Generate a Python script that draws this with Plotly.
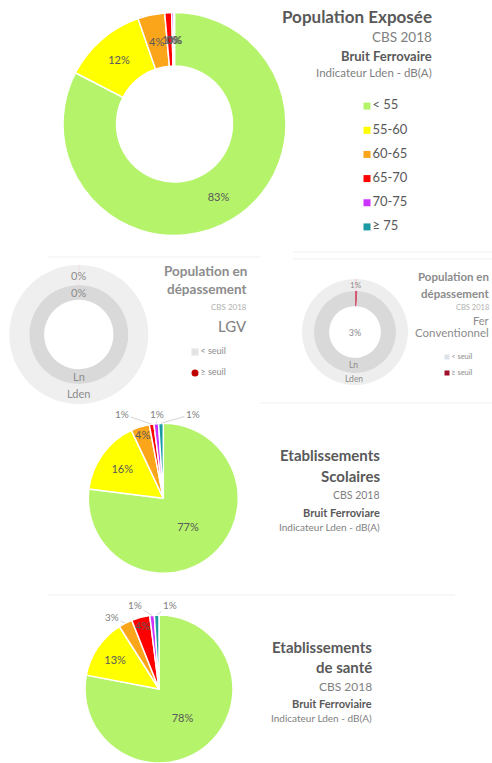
import math
import plotly.graph_objects as go

W, H = 492, 763
FONT = "Lato"

# ---------------- data ----------------
classes = ["< 55", "55-60", "60-65", "65-70", "70-75", "≥ 75"]
class_colors = ["#b5f36b", "#ffff00", "#fba51a", "#ff0000", "#cc33ff", "#1a9aa3"]

pop_exposee = [82.6, 12.1, 3.9, 1.0, 0.3, 0.1]        # % population
etab_scolaires = [77, 16, 4, 1, 1, 1]                # % schools
etab_sante = [78, 13, 3, 4, 1, 1]                    # % health facilities

seuil_labels = ["≥ seuil", "< seuil"]
ring_names = ["Lden", "Ln"]
lgv_lden = [0.1, 99.9]
lgv_ln = [0.1, 99.9]
conv_lden = [0.6, 99.4]
conv_ln = [1.0, 99.0]
conv_center_label = "3%"
legend_seuil = ["< seuil", "≥ seuil"]
legend_seuil_colors_lgv = ["#e3e3e3", "#c00000"]
legend_seuil_colors_conv = ["#dde3ea", "#a0102a"]

# ---------------- geometry (layout only) ----------------
G1 = dict(cx=174.5, cy=124, r=111.5, hole=0.52)
G2o = dict(cx=78.8, cy=334.5, r=69.5, hole=0.712)
G2i = dict(cx=78.8, cy=334.5, r=49.5, hole=0.70)
G3o = dict(cx=355, cy=332, r=53, hole=0.77)
G3i = dict(cx=355, cy=332, r=41, hole=0.63)
G4 = dict(cx=163.3, cy=498.3, r=75, hole=0)
G5 = dict(cx=159, cy=689, r=74, hole=0)


def dom(g):
    cx, cy, r = g["cx"], g["cy"], g["r"]
    return dict(x=[(cx - r) / W, (cx + r) / W], y=[1 - (cy + r) / H, 1 - (cy - r) / H])


def txt(s, x, y, size, color, bold=False, anchor="right"):
    return dict(text=f"<b>{s}</b>" if bold else s, x=x / W, y=1 - y / H,
                xref="paper", yref="paper", xanchor=anchor, yanchor="middle",
                showarrow=False, font=dict(family=FONT, size=size, color=color))


def slice_point(values, idx, g, rfrac):
    total = float(sum(values))
    mid = (sum(values[:idx]) + values[idx] / 2.0) / total * 2 * math.pi
    rr = g["r"] * rfrac
    return g["cx"] + rr * math.sin(mid), g["cy"] - rr * math.cos(mid)


def pct(values, idx):
    return f"{round(values[idx] / sum(values) * 100)}%"


def ring_label(values, idx, g, text, size, color):
    x, y = slice_point(values, idx, g, (1 + g["hole"]) / 2)
    return txt(text, x, y, size, color, anchor="center")


def leader(values, idx, g, lx, ly, size=10, color="#7f7f7f"):
    hx, hy = slice_point(values, idx, g, 1.0)
    return dict(text=pct(values, idx), x=hx / W, y=1 - hy / H, xref="paper", yref="paper",
                ax=lx - hx, ay=ly - hy, showarrow=True, arrowhead=0, arrowwidth=0.8,
                arrowcolor="#c8c8c8", standoff=0, startstandoff=0,
                font=dict(family=FONT, size=size, color=color))


fig = go.Figure()

LBL = dict(family=FONT, size=11, color="#595959")
P = "%{percent:.0%}"

# Panel 1 : donut population exposée
fig.add_trace(go.Pie(
    labels=classes, values=pop_exposee, sort=False, direction="clockwise", rotation=0,
    hole=G1["hole"], domain=dom(G1),
    marker=dict(colors=class_colors, line=dict(color="white", width=1.5)),
    texttemplate=[P, P, "", "", "", ""], textposition="inside", insidetextorientation="horizontal",
    textfont=LBL, showlegend=False))

# Panel 2 left : LGV rings
for vals, g, col in [(lgv_lden, G2o, ["#c00000", "#efefef"]), (lgv_ln, G2i, ["#c00000", "#d9d9d9"])]:
    fig.add_trace(go.Pie(
        labels=seuil_labels, values=vals, sort=False, direction="clockwise", rotation=0,
        hole=g["hole"], domain=dom(g), textinfo="none",
        marker=dict(colors=col, line=dict(width=0)), showlegend=False))

# Panel 2 right : Fer conventionnel rings
fig.add_trace(go.Pie(
    labels=seuil_labels, values=conv_lden, sort=False, direction="clockwise", rotation=0,
    hole=G3o["hole"], domain=dom(G3o), textinfo="none",
    marker=dict(colors=["#f3d6dc", "#eeeeee"], line=dict(width=0)), showlegend=False))
fig.add_trace(go.Pie(
    labels=seuil_labels, values=conv_ln, sort=False, direction="clockwise", rotation=0,
    hole=G3i["hole"], domain=dom(G3i), textinfo="none",
    marker=dict(colors=["#d25a74", "#d9d9d9"], line=dict(width=0)),
    title=dict(text=conv_center_label, position="middle center",
               font=dict(family=FONT, size=9, color="#8c8c8c")),
    showlegend=False))

# Panel 3 : établissements scolaires
fig.add_trace(go.Pie(
    labels=classes, values=etab_scolaires, sort=False, direction="clockwise", rotation=0,
    domain=dom(G4),
    marker=dict(colors=class_colors, line=dict(color="white", width=1.5)),
    texttemplate=[P, P, P, "", "", ""], textposition="inside",
    insidetextorientation="horizontal", textfont=LBL, showlegend=False))

# Panel 4 : établissements de santé
fig.add_trace(go.Pie(
    labels=classes, values=etab_sante, sort=False, direction="clockwise", rotation=0,
    domain=dom(G5),
    marker=dict(colors=class_colors, line=dict(color="white", width=1.5)),
    texttemplate=[P, P, "", P, "", ""], textposition="inside",
    insidetextorientation="horizontal", textfont=LBL, showlegend=False))

# Legends drawn as marker+text scatters on hidden axes
fig.add_trace(go.Scatter(
    x=[0] * len(classes), y=list(range(len(classes))), mode="markers+text",
    text=classes, textposition="middle right",
    marker=dict(symbol="square", size=7, color=class_colors),
    textfont=dict(family=FONT, size=13, color="#595959"),
    cliponaxis=False, hoverinfo="skip", showlegend=False, xaxis="x", yaxis="y"))
fig.add_trace(go.Scatter(
    x=[0] * len(legend_seuil), y=list(range(len(legend_seuil))), mode="markers+text",
    text=legend_seuil, textposition="middle right",
    marker=dict(symbol=["square", "circle"], size=7, color=legend_seuil_colors_lgv),
    textfont=dict(family=FONT, size=9, color="#8c8c8c"),
    cliponaxis=False, hoverinfo="skip", showlegend=False, xaxis="x2", yaxis="y2"))
fig.add_trace(go.Scatter(
    x=[0] * len(legend_seuil), y=list(range(len(legend_seuil))), mode="markers+text",
    text=legend_seuil, textposition="middle right",
    marker=dict(symbol="square", size=5, color=legend_seuil_colors_conv),
    textfont=dict(family=FONT, size=7.5, color="#8c8c8c"),
    cliponaxis=False, hoverinfo="skip", showlegend=False, xaxis="x3", yaxis="y3"))

hid = dict(visible=False, showgrid=False, zeroline=False, fixedrange=True)

annotations = [
    # panel 1
    txt("Population Exposée", 434, 16, 17, "#595959", bold=True),
    txt("CBS 2018", 434, 37, 13.5, "#7f7f7f"),
    txt("Bruit Ferrovaire", 434, 56, 13, "#595959", bold=True),
    txt("Indicateur Lden - dB(A)", 434, 73, 11.5, "#7f7f7f"),
    # panel 2 left
    txt("Population en", 249, 271, 13.5, "#8c8c8c", bold=True),
    txt("dépassement", 249, 289, 13.5, "#8c8c8c", bold=True),
    txt("CBS 2018", 249, 307, 8, "#b0b0b0"),
    txt("LGV", 249, 326, 15, "#808080"),
    # panel 2 right
    txt("Population en", 491, 277, 11.5, "#8c8c8c", bold=True),
    txt("dépassement", 491, 293, 11.5, "#8c8c8c", bold=True),
    txt("CBS 2018", 491, 307, 7.5, "#b0b0b0"),
    txt("Fer", 491, 320, 11, "#8c8c8c"),
    txt("Conventionnel", 491, 333, 11.5, "#8c8c8c"),
    # panel 3
    txt("Etablissements", 382, 455, 15, "#595959", bold=True),
    txt("Scolaires", 382, 476, 15, "#595959", bold=True),
    txt("CBS 2018", 382, 495, 10.5, "#7f7f7f"),
    txt("Bruit Ferroviare", 382, 512, 11, "#595959", bold=True),
    txt("Indicateur Lden - dB(A)", 382, 527, 10, "#7f7f7f"),
    # panel 4
    txt("Etablissements", 374, 647, 15, "#595959", bold=True),
    txt("de santé", 374, 667, 15, "#595959", bold=True),
    txt("CBS 2018", 374, 686, 12, "#7f7f7f"),
    txt("Bruit Ferroviaire", 374, 703, 11, "#595959", bold=True),
    txt("Indicateur Lden - dB(A)", 374, 718, 10, "#7f7f7f"),
]

# small-slice labels of the donut, at the ring middle
for i in range(2, len(pop_exposee)):
    annotations.append(ring_label(pop_exposee, i, G1, pct(pop_exposee, i), 11, "#595959"))

# ring labels (percent of ≥ seuil and ring name on the < seuil part)
for vals, g, name in [(lgv_lden, G2o, ring_names[0]), (lgv_ln, G2i, ring_names[1])]:
    annotations.append(ring_label(vals, 0, g, pct(vals, 0), 11, "#8c8c8c"))
    annotations.append(ring_label(vals, 1, g, name, 11, "#8c8c8c"))
annotations.append(ring_label(conv_lden, 0, G3o, pct(conv_lden, 0), 8, "#8c8c8c"))
annotations.append(ring_label(conv_lden, 1, G3o, ring_names[0], 8.5, "#8c8c8c"))
annotations.append(ring_label(conv_ln, 1, G3i, ring_names[1], 8.5, "#8c8c8c"))

# outside labels with leader lines
annotations += [
    leader(etab_scolaires, 3, G4, 122, 414),
    leader(etab_scolaires, 4, G4, 157, 414),
    leader(etab_scolaires, 5, G4, 193, 414),
    leader(etab_sante, 2, G5, 112, 617),
    leader(etab_sante, 4, G5, 135, 605),
    leader(etab_sante, 5, G5, 170, 605),
]


def hline(x0, x1, y, color="#efefef"):
    return dict(type="line", xref="paper", yref="paper", x0=x0 / W, x1=x1 / W,
                y0=1 - y / H, y1=1 - y / H, line=dict(color=color, width=1), layer="below")


shapes = [hline(48, 260, 257), hline(293, 492, 252), hline(293, 492, 259),
          hline(260, 492, 403), hline(48, 455, 595)]

fig.update_layout(
    width=W, height=H, autosize=False,
    margin=dict(l=0, r=0, t=0, b=0, pad=0),
    paper_bgcolor="white", plot_bgcolor="rgba(0,0,0,0)",
    showlegend=False,
    uniformtext=dict(minsize=11, mode="show"),
    font=dict(family=FONT, color="#595959"),
    annotations=annotations, shapes=shapes,
    xaxis=dict(hid, domain=[367 / W, 460 / W], range=[0, 1], anchor="y"),
    yaxis=dict(hid, domain=[1 - 239 / H, 1 - 94 / H], range=[5.5, -0.5], anchor="x"),
    xaxis2=dict(hid, domain=[195 / W, 250 / W], range=[0, 1], anchor="y2"),
    yaxis2=dict(hid, domain=[1 - 383.5 / H, 1 - 341.5 / H], range=[1.5, -0.5], anchor="x2"),
    xaxis3=dict(hid, domain=[447 / W, 490 / W], range=[0, 1], anchor="y3"),
    yaxis3=dict(hid, domain=[1 - 381 / H, 1 - 349 / H], range=[1.5, -0.5], anchor="x3"),
)

fig.write_html("out.html")
